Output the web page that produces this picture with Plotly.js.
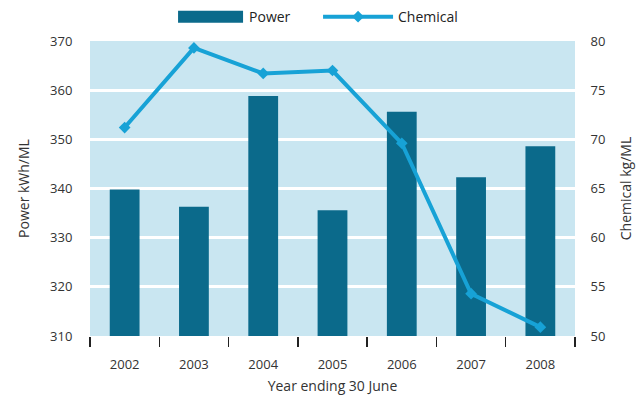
<!DOCTYPE html>
<html>
<head>
<meta charset="utf-8">
<script src="https://cdn.plot.ly/plotly-3.0.1.min.js"></script>
<style>
html,body{margin:0;padding:0;background:#fff;}
#chart{width:638px;height:401px;}
</style>
</head>
<body>
<div id="chart"></div>
<script>
const years = ['2002','2003','2004','2005','2006','2007','2008'];
const power = [339.8, 336.3, 358.8, 335.6, 355.6, 342.3, 348.6];
const chemical = [71.2, 79.3, 76.7, 77.0, 69.6, 54.3, 50.9];

const font = 'Open Sans, Noto Sans, sans-serif';
const ITEMW = 70;
const data = [
  {
    type: 'bar', name: 'Power', x: years, y: power,
    marker: {color: '#0b6a8b'}, yaxis: 'y'
  },
  {
    type: 'scatter', mode: 'lines+markers', name: 'Chemical', x: years, y: chemical,
    line: {color: '#17a2d6', width: 4},
    marker: {color: '#17a2d6', symbol: 'diamond', size: 9},
    yaxis: 'y2'
  }
];

const layout = {
  width: 638, height: 401,
  margin: {l: 90, r: 63, t: 41, b: 65, autoexpand: false},
  paper_bgcolor: '#ffffff',
  plot_bgcolor: '#c9e6f1',
  font: {family: font, size: 13, color: '#333333'},
  bargap: 0.57,
  showlegend: true,
  legend: {
    orientation: 'h', x: 0.163, xanchor: 'left', y: 1.027, yanchor: 'bottom',
    font: {family: font, size: 14, color: '#222222'},
    itemwidth: ITEMW, entrywidth: 64, entrywidthmode: 'pixels',
    traceorder: 'normal', bgcolor: 'rgba(0,0,0,0)'
  },
  xaxis: {
    type: 'category',
    tickson: 'boundaries',
    ticks: 'outside', ticklen: 10, tickwidth: 1.5, tickcolor: '#222222',
    ticklabelstandoff: 19,
    showgrid: false, showline: false, zeroline: false,
    tickfont: {family: font, size: 13, color: '#333333'},
    title: {text: 'Year ending 30 June', font: {family: font, size: 14, color: '#333333'}, standoff: 9}
  },
  yaxis: {
    range: [310, 370], dtick: 10,
    showgrid: true, gridcolor: '#ffffff', gridwidth: 3,
    zeroline: false, showline: false,
    ticks: 'outside', ticklen: 14, tickcolor: 'rgba(0,0,0,0)',
    tickfont: {family: font, size: 13, color: '#333333'},
    title: {text: 'Power kWh/ML', font: {family: font, size: 14, color: '#333333'}, standoff: 17}
  },
  yaxis2: {
    range: [50, 80], dtick: 5, overlaying: 'y', side: 'right',
    showgrid: false, zeroline: false, showline: false,
    ticks: 'outside', ticklen: 12, tickcolor: 'rgba(0,0,0,0)',
    tickfont: {family: font, size: 13, color: '#333333'},
    title: {text: 'Chemical kg/ML', font: {family: font, size: 14, color: '#333333'}, standoff: 16}
  }
};

function widenBarSwatch() {
  const pts = document.querySelectorAll('.legend .traces .legendpoints path');
  if (!pts.length) return;
  const p = pts[0];
  let cx = 0;
  const tr = p.getAttribute('transform');
  if (tr) {
    const m = tr.match(/translate\(\s*([-\d.]+)/);
    if (m) cx = parseFloat(m[1]);
  }
  const x0 = 9 - cx, x1 = ITEMW + 4 - cx;
  p.setAttribute('d', 'M' + x0 + ',6H' + x1 + 'V-6H' + x0 + 'Z');
}

Plotly.newPlot('chart', data, layout, {displayModeBar: false, staticPlot: true}).then(widenBarSwatch);
</script>
</body>
</html>
